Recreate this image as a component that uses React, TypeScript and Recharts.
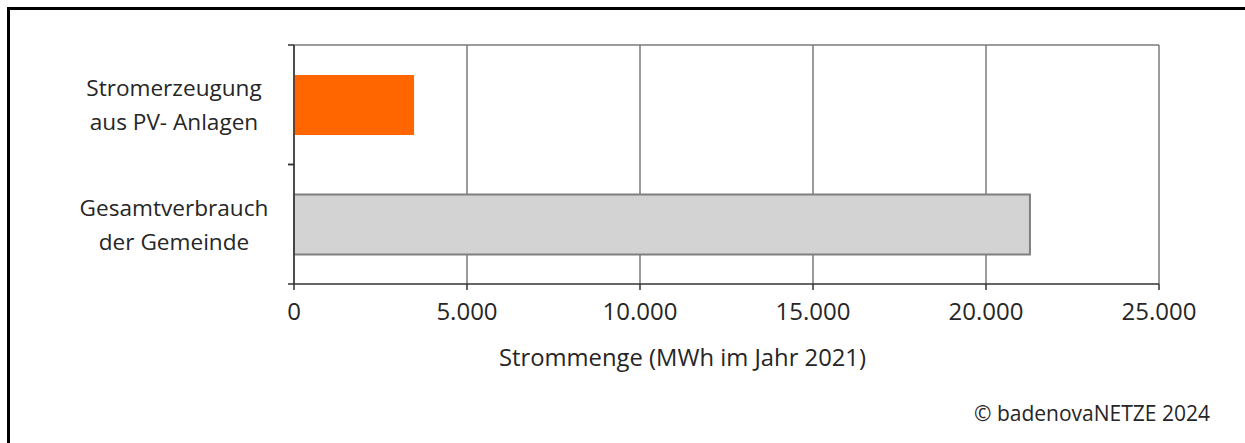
import { BarChart, Bar, XAxis, YAxis, CartesianGrid, Cell, Label } from "recharts";

const categories = [
  ["Stromerzeugung", "aus PV- Anlagen"],
  ["Gesamtverbrauch", "der Gemeinde"],
];
const values = [3470, 21270];
const barColors = ["#ff6600", "#d3d3d3"];
const barStrokes = ["none", "#7f7f7f"];
const xTicks = [0, 5000, 10000, 15000, 20000, 25000];

const data = categories.map((lines, i) => ({ name: lines.join("\n"), value: values[i] }));

const W = 1245;
const H = 443;
const TOP = 45;
const BOTTOM = 159;
const LEFT = 294;
const RIGHT = 86;
const FONT = "'Open Sans', sans-serif";

const fmt = (v: number) => v.toLocaleString("de-DE");

function CategoryTick(props: any) {
  const { y, payload } = props;
  const band = (H - TOP - BOTTOM) / categories.length;
  const lines = String(payload.value).split("\n");
  return (
    <g>
      <line x1={LEFT - 6} x2={LEFT} y1={y - band / 2} y2={y - band / 2} stroke="#333" strokeWidth={1.5} />
      <line x1={LEFT - 6} x2={LEFT} y1={y + band / 2} y2={y + band / 2} stroke="#333" strokeWidth={1.5} />
      {lines.map((l, i) => (
        <text
          key={i}
          x={174}
          y={y - 17 + i * 34}
          textAnchor="middle"
          dominantBaseline="central"
          fontFamily={FONT}
          fontSize={22.6}
          fill="#262626"
        >
          {l}
        </text>
      ))}
    </g>
  );
}

export default function App() {
  return (
    <div style={{ position: "absolute", left: 0, top: 0, width: W, height: H, background: "#fff" }}>
      <div
        style={{
          position: "absolute",
          left: 7,
          top: 7,
          width: W,
          height: H,
          borderTop: "3px solid #000",
          borderLeft: "3px solid #000",
        }}
      />
      <BarChart
        width={W}
        height={H}
        layout="vertical"
        data={data}
        margin={{ top: TOP, right: RIGHT, bottom: BOTTOM - 90, left: 0 }}
        barCategoryGap="25%"
        style={{ position: "absolute", left: 0, top: 0 }}
      >
        <CartesianGrid
          stroke="#7a7a7a"
          strokeWidth={1.5}
          horizontalCoordinatesGenerator={(p: any) => [p.offset.top]}
          verticalCoordinatesGenerator={(p: any) =>
            xTicks.map((t) => p.offset.left + (t / 25000) * p.offset.width)
          }
        />
        <XAxis
          type="number"
          domain={[0, 25000]}
          ticks={xTicks}
          tickFormatter={fmt}
          height={90}
          stroke="#333"
          strokeWidth={1.5}
          tickSize={6}
          tick={{ fontFamily: FONT, fontSize: 24, fill: "#262626", dy: 11 }}
          interval={0}
        >
          <Label
            value="Strommenge (MWh im Jahr 2021)"
            position="insideBottom"
            offset={8}
            dx={-44}
            style={{ fontFamily: FONT, fontSize: 23.8, fill: "#262626" }}
          />
        </XAxis>
        <YAxis
          type="category"
          dataKey="name"
          width={LEFT}
          stroke="#333"
          strokeWidth={1.5}
          tickLine={false}
          tick={<CategoryTick />}
          interval={0}
        />
        <Bar dataKey="value" isAnimationActive={false} strokeWidth={2}>
          {data.map((d, i) => (
            <Cell key={d.name} fill={barColors[i]} stroke={barStrokes[i]} />
          ))}
        </Bar>
      </BarChart>
      <div
        style={{
          position: "absolute",
          right: 35,
          top: 399,
          fontFamily: FONT,
          fontSize: 21,
          color: "#262626",
          lineHeight: "28px",
        }}
      >
        © badenovaNETZE 2024
      </div>
    </div>
  );
}
